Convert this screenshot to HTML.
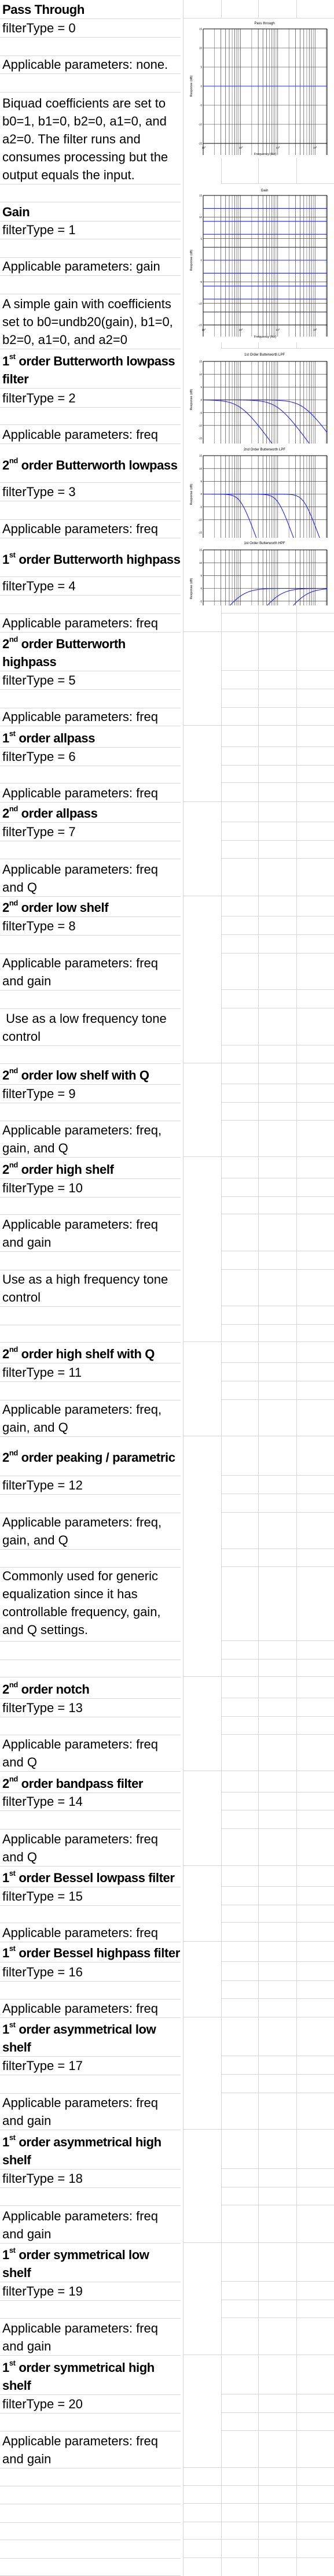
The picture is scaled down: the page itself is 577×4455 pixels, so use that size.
<!DOCTYPE html>
<html><head><meta charset="utf-8">
<style>
html,body{margin:0;padding:0;background:#fff;}
body{width:577px;height:4455px;position:relative;overflow:hidden;font-family:"Liberation Sans",Arial,sans-serif;}
.c{position:absolute;left:0;width:312px;padding-left:4px;border-bottom:1px solid #d4d4d4;box-sizing:border-box;display:flex;flex-direction:column;justify-content:flex-end;font-size:22px;line-height:31px;color:#000;white-space:nowrap;overflow:hidden;}
.c > div{display:block;}
.b{font-weight:bold;letter-spacing:-0.4px;}
sup{font-size:13px;line-height:0;vertical-align:11px;}
.v{position:absolute;top:0;height:4455px;width:1px;background:#d4d4d4;}
.h{position:absolute;height:1px;background:#d4d4d4;}
svg.p{position:absolute;left:317px;background:#fff;}
svg text{font-family:"Liberation Sans",Arial,sans-serif;}
</style></head><body>
<div class="v" style="left:316px"></div>
<div class="v" style="left:382px"></div>
<div class="v" style="left:446px"></div>
<div class="v" style="left:512px"></div>
<div id="hl"></div>

<div class="c b" style="top:0;height:33px"><div>Pass Through</div></div>
<div class="c" style="top:32px;height:33px"><div>filterType = 0</div></div>
<div class="c" style="top:64px;height:33px"></div>
<div class="c" style="top:96px;height:32px"><div>Applicable parameters: none.</div></div>
<div class="c" style="top:127px;height:33px"></div>
<div class="c" style="top:159px;height:160px"><div>Biquad coefficients are set to<br>b0=1, b1=0, b2=0, a1=0, and<br>a2=0. The filter runs and<br>consumes processing but the<br>output equals the input.</div></div>
<div class="c" style="top:318px;height:32px"></div>
<div class="c b" style="top:349px;height:34px"><div>Gain</div></div>
<div class="c" style="top:382px;height:32px"><div>filterType = 1</div></div>
<div class="c" style="top:413px;height:33px"></div>
<div class="c" style="top:445px;height:32px"><div>Applicable parameters: gain</div></div>
<div class="c" style="top:476px;height:33px"></div>
<div class="c" style="top:508px;height:96px"><div>A simple gain with coefficients<br>set to b0=undb20(gain), b1=0,<br>b2=0, a1=0, and a2=0</div></div>
<div class="c b" style="top:603px;height:69px"><div>1<sup>st</sup> order Butterworth lowpass<br>filter</div></div>
<div class="c" style="top:671px;height:34px"><div>filterType = 2</div></div>
<div class="c" style="top:704px;height:31px"></div>
<div class="c" style="top:734px;height:34px"><div>Applicable parameters: freq</div></div>
<div class="c b" style="top:767px;height:68px"><div style="padding-bottom:14px">2<sup>nd</sup> order Butterworth lowpass</div></div>
<div class="c" style="top:834px;height:33px"><div>filterType = 3</div></div>
<div class="c" style="top:866px;height:33px"></div>
<div class="c" style="top:898px;height:33px"><div>Applicable parameters: freq</div></div>
<div class="c b" style="top:930px;height:68px"><div style="padding-bottom:14px">1<sup>st</sup> order Butterworth highpass</div></div>
<div class="c" style="top:997px;height:33px"><div>filterType = 4</div></div>
<div class="c" style="top:1029px;height:33px"></div>
<div class="c" style="top:1061px;height:33px"><div>Applicable parameters: freq</div></div>
<div class="c b" style="top:1093px;height:68px"><div>2<sup>nd</sup> order Butterworth<br>highpass</div></div>
<div class="c" style="top:1160px;height:33px"><div>filterType = 5</div></div>
<div class="c" style="top:1192px;height:33px"></div>
<div class="c" style="top:1224px;height:32px"><div>Applicable parameters: freq</div></div>
<div class="c b" style="top:1255px;height:38px"><div>1<sup>st</sup> order allpass</div></div>
<div class="c" style="top:1292px;height:33px"><div>filterType = 6</div></div>
<div class="c" style="top:1324px;height:31px"></div>
<div class="c" style="top:1354px;height:34px"><div>Applicable parameters: freq</div></div>
<div class="c b" style="top:1387px;height:36px"><div>2<sup>nd</sup> order allpass</div></div>
<div class="c" style="top:1422px;height:33px"><div>filterType = 7</div></div>
<div class="c" style="top:1454px;height:32px"></div>
<div class="c" style="top:1485px;height:66px"><div>Applicable parameters: freq<br>and Q</div></div>
<div class="c b" style="top:1550px;height:36px"><div>2<sup>nd</sup> order low shelf</div></div>
<div class="c" style="top:1585px;height:33px"><div>filterType = 8</div></div>
<div class="c" style="top:1617px;height:33px"></div>
<div class="c" style="top:1649px;height:64px"><div>Applicable parameters: freq<br>and gain</div></div>
<div class="c" style="top:1712px;height:33px"></div>
<div class="c" style="top:1744px;height:65px"><div>&nbsp;Use as a low frequency tone<br>control</div></div>
<div class="c" style="top:1808px;height:32px"></div>
<div class="c b" style="top:1839px;height:37px"><div>2<sup>nd</sup> order low shelf with Q</div></div>
<div class="c" style="top:1875px;height:33px"><div>filterType = 9</div></div>
<div class="c" style="top:1907px;height:32px"></div>
<div class="c" style="top:1938px;height:64px"><div>Applicable parameters: freq,<br>gain, and Q</div></div>
<div class="c b" style="top:2001px;height:38px"><div>2<sup>nd</sup> order high shelf</div></div>
<div class="c" style="top:2038px;height:33px"><div>filterType = 10</div></div>
<div class="c" style="top:2070px;height:31px"></div>
<div class="c" style="top:2100px;height:65px"><div>Applicable parameters: freq<br>and gain</div></div>
<div class="c" style="top:2164px;height:33px"></div>
<div class="c" style="top:2196px;height:64px"><div>Use as a high frequency tone<br>control</div></div>
<div class="c" style="top:2259px;height:33px"></div>
<div class="c" style="top:2291px;height:31px"></div>
<div class="c b" style="top:2321px;height:37px"><div>2<sup>nd</sup> order high shelf with Q</div></div>
<div class="c" style="top:2357px;height:33px"><div>filterType = 11</div></div>
<div class="c" style="top:2389px;height:33px"></div>
<div class="c" style="top:2421px;height:64px"><div>Applicable parameters: freq,<br>gain, and Q</div></div>
<div class="c b" style="top:2484px;height:69px"><div style="padding-bottom:16px">2<sup>nd</sup> order peaking / parametric</div></div>
<div class="c" style="top:2552px;height:33px"><div>filterType = 12</div></div>
<div class="c" style="top:2584px;height:33px"></div>
<div class="c" style="top:2616px;height:64px"><div>Applicable parameters: freq,<br>gain, and Q</div></div>
<div class="c" style="top:2679px;height:32px"></div>
<div class="c" style="top:2710px;height:129px"><div style="padding-bottom:4px">Commonly used for generic<br>equalization since it has<br>controllable frequency, gain,<br>and Q settings.</div></div>
<div class="c" style="top:2838px;height:33px"></div>
<div class="c" style="top:2870px;height:31px"></div>
<div class="c b" style="top:2900px;height:38px"><div>2<sup>nd</sup> order notch</div></div>
<div class="c" style="top:2937px;height:33px"><div>filterType = 13</div></div>
<div class="c" style="top:2969px;height:32px"></div>
<div class="c" style="top:3000px;height:64px"><div>Applicable parameters: freq<br>and Q</div></div>
<div class="c b" style="top:3063px;height:38px"><div>2<sup>nd</sup> order bandpass filter</div></div>
<div class="c" style="top:3100px;height:32px"><div>filterType = 14</div></div>
<div class="c" style="top:3131px;height:33px"></div>
<div class="c" style="top:3163px;height:65px"><div>Applicable parameters: freq<br>and Q</div></div>
<div class="c b" style="top:3227px;height:37px"><div>1<sup>st</sup> order Bessel lowpass filter</div></div>
<div class="c" style="top:3263px;height:33px"><div>filterType = 15</div></div>
<div class="c" style="top:3295px;height:31px"></div>
<div class="c" style="top:3325px;height:34px"><div>Applicable parameters: freq</div></div>
<div class="c b" style="top:3358px;height:36px"><div>1<sup>st</sup> order Bessel highpass filter</div></div>
<div class="c" style="top:3393px;height:34px"><div>filterType = 16</div></div>
<div class="c" style="top:3426px;height:32px"></div>
<div class="c" style="top:3457px;height:33px"><div>Applicable parameters: freq</div></div>
<div class="c b" style="top:3489px;height:68px"><div>1<sup>st</sup> order asymmetrical low<br>shelf</div></div>
<div class="c" style="top:3556px;height:33px"><div>filterType = 17</div></div>
<div class="c" style="top:3588px;height:33px"></div>
<div class="c" style="top:3620px;height:64px"><div>Applicable parameters: freq<br>and gain</div></div>
<div class="c b" style="top:3683px;height:69px"><div>1<sup>st</sup> order asymmetrical high<br>shelf</div></div>
<div class="c" style="top:3751px;height:33px"><div>filterType = 18</div></div>
<div class="c" style="top:3783px;height:32px"></div>
<div class="c" style="top:3814px;height:66px"><div>Applicable parameters: freq<br>and gain</div></div>
<div class="c b" style="top:3879px;height:68px"><div>1<sup>st</sup> order symmetrical low<br>shelf</div></div>
<div class="c" style="top:3946px;height:33px"><div>filterType = 19</div></div>
<div class="c" style="top:3978px;height:32px"></div>
<div class="c" style="top:4009px;height:65px"><div>Applicable parameters: freq<br>and gain</div></div>
<div class="c b" style="top:4073px;height:69px"><div>1<sup>st</sup> order symmetrical high<br>shelf</div></div>
<div class="c" style="top:4141px;height:33px"><div>filterType = 20</div></div>
<div class="c" style="top:4173px;height:32px"></div>
<div class="c" style="top:4204px;height:65px"><div>Applicable parameters: freq<br>and gain</div></div>
<div class="c" style="top:4268px;height:32px"></div>
<div class="c" style="top:4299px;height:32px"></div>
<div class="c" style="top:4330px;height:33px"></div>
<div class="c" style="top:4362px;height:31px"></div>
<div class="c" style="top:4392px;height:33px"></div>
<div class="c" style="top:4424px;height:31px"></div>

<svg class="p" id="p1" style="top:32px" width="260" height="241" viewBox="317 32 260 241">
<text x="457" y="42" font-size="6" text-anchor="middle">Pass through</text>
<text x="332" y="149" font-size="5.5" text-anchor="middle" transform="rotate(-90 332 149)">Response (dB)</text>
<text x="458" y="268" font-size="5.5" text-anchor="middle">Frequency (Hz)</text>
<g font-size="4.5" text-anchor="middle"><text x="352" y="257">10<tspan font-size="3" dy="-2">1</tspan></text><text x="416" y="257">10<tspan font-size="3" dy="-2">2</tspan></text><text x="480" y="257">10<tspan font-size="3" dy="-2">3</tspan></text><text x="544" y="257">10<tspan font-size="3" dy="-2">4</tspan></text></g>
</svg>
<svg class="p" id="p2" style="top:318px" width="260" height="274" viewBox="317 318 260 274">
<text x="457" y="331" font-size="6" text-anchor="middle">Gain</text>
<text x="332" y="450" font-size="5.5" text-anchor="middle" transform="rotate(-90 332 450)">Response (dB)</text>
<text x="458" y="584" font-size="5.5" text-anchor="middle">Frequency (Hz)</text>
<g font-size="4.5" text-anchor="middle"><text x="352" y="572">10<tspan font-size="3" dy="-2">1</tspan></text><text x="416" y="572">10<tspan font-size="3" dy="-2">2</tspan></text><text x="480" y="572">10<tspan font-size="3" dy="-2">3</tspan></text><text x="544" y="572">10<tspan font-size="3" dy="-2">4</tspan></text></g>
</svg>
<svg class="p" id="p3" style="top:603px" width="260" height="164" viewBox="317 603 260 164">
<text x="457" y="615" font-size="6" text-anchor="middle">1st Order Butterworth LPF</text>
<text x="332" y="691" font-size="5.5" text-anchor="middle" transform="rotate(-90 332 691)">Response (dB)</text>
</svg>
<svg class="p" id="p4" style="top:767px" width="260" height="163" viewBox="317 767 260 163">
<text x="457" y="779" font-size="6" text-anchor="middle">2nd Order Butterworth LPF</text>
<text x="332" y="855" font-size="5.5" text-anchor="middle" transform="rotate(-90 332 855)">Response (dB)</text>
</svg>
<svg class="p" id="p5" style="top:930px" width="260" height="117" viewBox="317 930 260 117">
<text x="457" y="941" font-size="6" text-anchor="middle">1st Order Butterworth HPF</text>
<text x="332" y="1018" font-size="5.5" text-anchor="middle" transform="rotate(-90 332 1018)">Response (dB)</text>
</svg>

<script>
(function(){
var rows=[32,64,96,127,159,318,349,382,413,445,476,508,603,671,704,734,767,834,866,898,930,997,1029,1061,1093,1160,1192,1224,1255,1292,1324,1354,1387,1422,1454,1485,1550,1585,1617,1649,1712,1744,1808,1839,1875,1907,1938,2001,2038,2070,2100,2164,2196,2259,2291,2321,2357,2389,2421,2484,2552,2584,2616,2679,2710,2838,2870,2900,2937,2969,3000,3063,3100,3131,3163,3227,3263,3295,3325,3358,3393,3426,3457,3489,3556,3588,3620,3683,3751,3783,3814,3879,3946,3978,4009,4073,4141,4173,4204,4268,4299,4330,4362,4392,4424];
var sect=[32,1093,1255,1387,1550,1839,2001,2321,2484,2900,3063,3227,3358,3489,3683,3879,4073,4268,4299,4330,4362,4392,4424];
var hl=document.getElementById('hl'),s='';
rows.forEach(function(y){
  var l=sect.indexOf(y)>=0?316:382;
  s+='<div class="h" style="top:'+(y-1)+'px;left:'+l+'px;width:'+(577-l)+'px"></div>';
});
hl.innerHTML=s;
var NS='http://www.w3.org/2000/svg';
function el(svg,tag,a){var e=document.createElementNS(NS,tag);for(var k in a)e.setAttribute(k,a[k]);svg.appendChild(e);return e;}
var X0=351,XD=64.4,XR=565;
function fx(f){return X0+XD*(Math.log10(f)-1);}
function plot(id,ft,fb,curves,labels){
  var svg=document.getElementById(id);
  function fy(db){return ft+(15-db)/30*(fb-ft);}
  for(var d=1;d<=4;d++)for(var m=1;m<=9;m++){
    var x=fx(m*Math.pow(10,d));if(x>XR)break;
    var gray=(m==2||m==6||m==9);
    el(svg,'line',{x1:x,x2:x,y1:ft,y2:fb+20,stroke:gray?'#999':'#222','stroke-width':gray?0.9:0.6});
  }
  for(var db=-10;db<=10;db+=5){el(svg,'line',{x1:X0,x2:XR,y1:fy(db),y2:fy(db),stroke:'#222','stroke-width':0.6});}
  el(svg,'line',{x1:X0,x2:XR,y1:ft,y2:ft,stroke:'#000','stroke-width':1});
  el(svg,'line',{x1:X0,x2:X0,y1:ft,y2:fb+20,stroke:'#000','stroke-width':1});
  el(svg,'line',{x1:XR,x2:XR,y1:ft,y2:fb+20,stroke:'#000','stroke-width':1});
  if(labels) el(svg,'line',{x1:X0,x2:XR,y1:fb,y2:fb,stroke:'#000','stroke-width':1});
  for(var db=-15;db<=15;db+=5){var t=el(svg,'text',{x:X0-2,y:fy(db)+1.6,'font-size':4.5,'text-anchor':'end'});t.textContent=String(db);}
  curves.forEach(function(fn){
    var pts=[];
    for(var i=0;i<=400;i++){var lf=1+i/400*3.33;var f=Math.pow(10,lf);var v=fn(f);var y=fy(v);if(y>fb+40)y=fb+40;pts.push(fx(f).toFixed(2)+','+y.toFixed(2));}
    el(svg,'polyline',{points:pts.join(' '),fill:'none',stroke:'#1f1fff','stroke-width':1.1});
  });
  el(svg,'rect',{x:XR+0.5,y:ft-5,width:20,height:400,fill:'#fff'});
}
function c(v){return function(){return v;};}
plot('p1',50,248,[c(0)],true);
plot('p2',338,562,[12,9,6,3,0,-3,-6,-9,-12].map(c),true);
function lp1(fc){return function(f){return -10*Math.log10(1+Math.pow(f/fc,2));};}
function lp2(fc){return function(f){return -10*Math.log10(1+Math.pow(f/fc,4));};}
function hp1(fc){return function(f){return -10*Math.log10(1+Math.pow(fc/f,2));};}
plot('p3',625,758,[lp1(100),lp1(1000),lp1(5000)],false);
plot('p4',788,921,[lp2(100),lp2(1000),lp2(5000)],false);
plot('p5',951,1084,[hp1(100),hp1(1000),hp1(5000)],false);
})();
</script>
</body></html>
